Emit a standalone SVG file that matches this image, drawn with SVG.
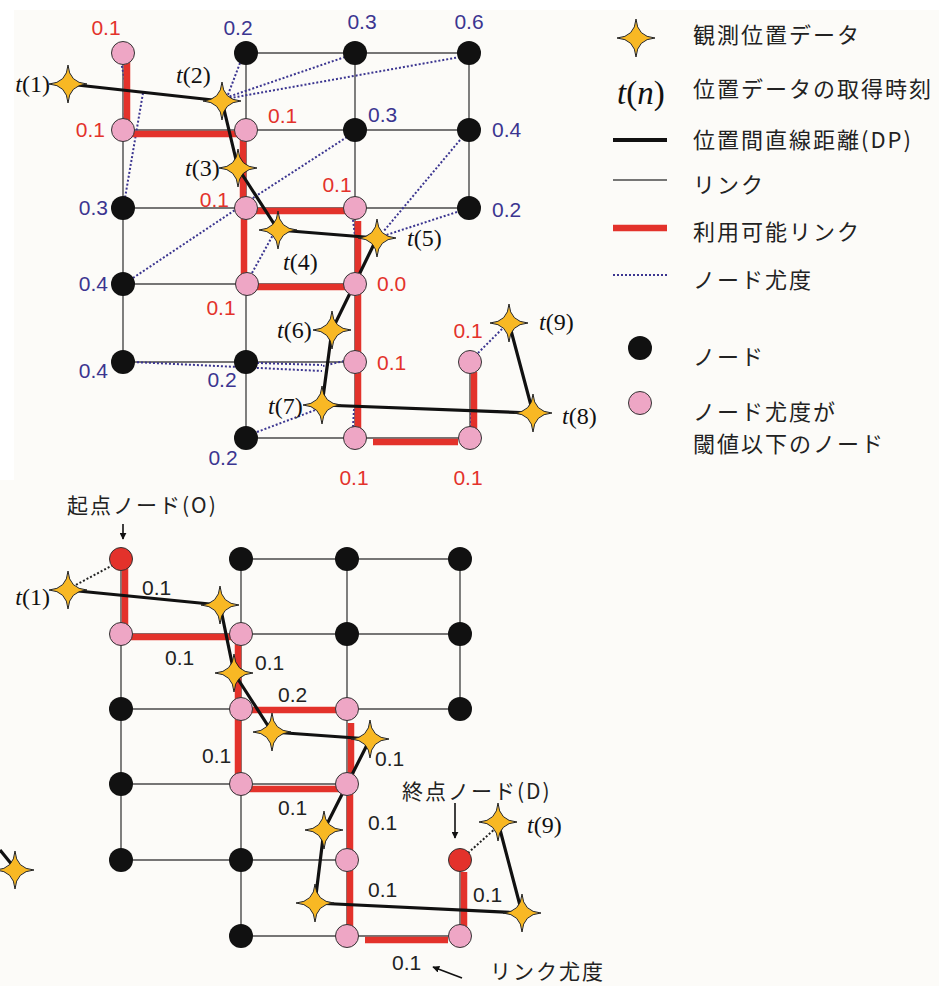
<svg xmlns="http://www.w3.org/2000/svg" width="939" height="986" viewBox="0 0 939 986">
<style>
.bg{fill:#fcfbf8}
.link{stroke:#4a4a4a;stroke-width:1.4;fill:none}
.red{stroke:#e3322b;stroke-width:6.5;fill:none}
.dp{stroke:#111;stroke-width:3.2;fill:none;stroke-linejoin:round}
.dot{stroke:#3b3590;stroke-width:2;stroke-dasharray:2 2;fill:none}
.dotk{stroke:#222;stroke-width:2;stroke-dasharray:2 2;fill:none}
.nb{fill:#111}
.np{fill:#eea6c5;stroke:#333;stroke-width:1}
.nr{fill:#e3322b;stroke:#333;stroke-width:1}
.v{font-family:"Liberation Sans",Arial,sans-serif;font-size:21px}
.vr{fill:#e3322b}
.vb{fill:#3b3590}
.vk{fill:#222}
.tl{font-family:"Liberation Serif","Times New Roman",serif;font-size:24px;fill:#111}
.jp{font-family:"Noto Sans CJK JP","Noto Sans",sans-serif;font-size:22px;letter-spacing:2px;fill:#222}
.jps{font-family:"Noto Sans CJK JP","Noto Sans",sans-serif;font-size:21px;letter-spacing:2px;fill:#222}
.arr{stroke:#111;stroke-width:1.6;fill:none}
</style>
<defs>
<path id="star" d="M0,-19 Q1.2,-1.2 19,0 Q1.2,1.2 0,19 Q-1.2,1.2 -19,0 Q-1.2,-1.2 0,-19 Z" fill="#f8b824" stroke="#222" stroke-width="1"/>
<marker id="ah" viewBox="0 0 10 10" refX="9" refY="5" markerWidth="7" markerHeight="7" orient="auto-start-reverse" markerUnits="userSpaceOnUse">
<path d="M0,0 L10,5 L0,10 Z" fill="#111"/>
</marker>
</defs>
<rect class="bg" x="0" y="0" width="939" height="986"/>
<rect x="0" y="0" width="939" height="10" fill="#ffffff"/>
<rect x="0" y="0" width="14" height="480" fill="#ffffff"/>

<!-- ================= TOP DIAGRAM ================= -->
<g id="top-connectors">
<g id="top-links">
<path class="link" d="M246,53 H469 M123,130 H469 M123,208 H469 M123,284 H355 M123,362 H355 M246,438 H470 M123,53 V362 M246,53 V438 M355,53 V438 M469,53 V208 M470,362 V438"/>
</g>
<g id="top-dotted">
<path class="dot" d="M121,62 L127,91 M127,93 L124,122 M143,93 L125,198 M240,63 L226,100 M345,57 L225,98 M460,57 L225,99 M347,137 L256,196 M133,278 L256,196 M460,140 L383,232 M457,212 L383,236 M353,220 L355,236 M252,273 L274,233 M133,362 L322,371 M257,363 L322,365 M344,361 L323,366 M257,432 L318,409 M353,427 L354,409 M471,427 L471,412 M478,353 L503,328"/>
</g>
<g id="top-red">
<path class="red" d="M127,53 V130 M123,134 H246 M243,130 V208 M246,211 H355 M244,208 V284 M246,287 H355 M358,221 V284 M358,284 V438 M373,442 H458 M474,372 V438"/>
</g>
<g id="top-dp">
<path class="dp" d="M68,84 L222,101 L238,168 L278,230 L377,238 L332,330 L322,405 L533,413 L509,323"/>
</g>
</g>

<g id="top-nodes">
<g id="tn-00"><circle class="np" cx="123" cy="53" r="11.5"/><text class="v vr" x="106" y="35" text-anchor="middle">0.1</text></g>
<g id="tn-01"><circle class="nb" cx="246" cy="53" r="12"/><text class="v vb" x="238" y="35" text-anchor="middle">0.2</text></g>
<g id="tn-02"><circle class="nb" cx="355" cy="53" r="12"/><text class="v vb" x="362" y="29" text-anchor="middle">0.3</text></g>
<g id="tn-03"><circle class="nb" cx="469" cy="53" r="12"/><text class="v vb" x="469" y="29" text-anchor="middle">0.6</text></g>
<g id="tn-10"><circle class="np" cx="123" cy="130" r="11.5"/><text class="v vr" x="105" y="137" text-anchor="end">0.1</text></g>
<g id="tn-11"><circle class="np" cx="246" cy="130" r="11.5"/><text class="v vr" x="268" y="123">0.1</text></g>
<g id="tn-12"><circle class="nb" cx="355" cy="130" r="12"/><text class="v vb" x="368" y="122">0.3</text></g>
<g id="tn-13"><circle class="nb" cx="469" cy="130" r="12"/><text class="v vb" x="492" y="137">0.4</text></g>
<g id="tn-20"><circle class="nb" cx="123" cy="208" r="12"/><text class="v vb" x="108" y="215" text-anchor="end">0.3</text></g>
<g id="tn-21"><circle class="np" cx="246" cy="208" r="11.5"/><text class="v vr" x="229" y="207" text-anchor="end">0.1</text></g>
<g id="tn-22"><circle class="np" cx="355" cy="208" r="11.5"/><text class="v vr" x="337" y="192" text-anchor="middle">0.1</text></g>
<g id="tn-23"><circle class="nb" cx="469" cy="208" r="12"/><text class="v vb" x="492" y="217">0.2</text></g>
<g id="tn-30"><circle class="nb" cx="123" cy="284" r="12"/><text class="v vb" x="108" y="291" text-anchor="end">0.4</text></g>
<g id="tn-31"><circle class="np" cx="247" cy="284" r="11.5"/><text class="v vr" x="221" y="315" text-anchor="middle">0.1</text></g>
<g id="tn-32"><circle class="np" cx="355" cy="284" r="11.5"/><text class="v vr" x="377" y="291">0.0</text></g>
<g id="tn-40"><circle class="nb" cx="123" cy="362" r="12"/><text class="v vb" x="108" y="378" text-anchor="end">0.4</text></g>
<g id="tn-41"><circle class="nb" cx="246" cy="362" r="12"/><text class="v vb" x="222" y="387" text-anchor="middle">0.2</text></g>
<g id="tn-42"><circle class="np" cx="355" cy="362" r="11.5"/><text class="v vr" x="377" y="370">0.1</text></g>
<g id="tn-43"><circle class="np" cx="470" cy="362" r="11.5"/><text class="v vr" x="468" y="338" text-anchor="middle">0.1</text></g>
<g id="tn-51"><circle class="nb" cx="246" cy="438" r="12"/><text class="v vb" x="223" y="465" text-anchor="middle">0.2</text></g>
<g id="tn-52"><circle class="np" cx="355" cy="438" r="11.5"/><text class="v vr" x="354" y="485" text-anchor="middle">0.1</text></g>
<g id="tn-53"><circle class="np" cx="470" cy="438" r="11.5"/><text class="v vr" x="468" y="485" text-anchor="middle">0.1</text></g>
</g>

<g id="top-obs">
<g id="tt1"><use href="#star" x="68" y="84"/><text class="tl" x="50" y="92" text-anchor="end"><tspan font-style="italic">t</tspan>(1)</text></g>
<g id="tt2"><use href="#star" x="222" y="101"/><text class="tl" x="176" y="83"><tspan font-style="italic">t</tspan>(2)</text></g>
<g id="tt3"><use href="#star" x="238" y="168"/><text class="tl" x="185" y="176"><tspan font-style="italic">t</tspan>(3)</text></g>
<g id="tt4"><use href="#star" x="278" y="230"/><text class="tl" x="283" y="270"><tspan font-style="italic">t</tspan>(4)</text></g>
<g id="tt5"><use href="#star" x="377" y="238"/><text class="tl" x="407" y="246"><tspan font-style="italic">t</tspan>(5)</text></g>
<g id="tt6"><use href="#star" x="332" y="330"/><text class="tl" x="277" y="338"><tspan font-style="italic">t</tspan>(6)</text></g>
<g id="tt7"><use href="#star" x="322" y="405"/><text class="tl" x="268" y="414"><tspan font-style="italic">t</tspan>(7)</text></g>
<g id="tt8"><use href="#star" x="533" y="413"/><text class="tl" x="562" y="424"><tspan font-style="italic">t</tspan>(8)</text></g>
<g id="tt9"><use href="#star" x="509" y="323"/><text class="tl" x="539" y="330"><tspan font-style="italic">t</tspan>(9)</text></g>
</g>

<!-- ================= LEGEND ================= -->
<g id="legend">
<g id="lg-star"><use href="#star" x="636" y="38"/><text class="jp" x="693" y="43">観測位置データ</text></g>
<g id="lg-time"><text class="tl" x="617" y="104" style="font-size:33px"><tspan font-style="italic">t</tspan>(<tspan font-style="italic">n</tspan>)</text><text class="jp" x="693" y="97">位置データの取得時刻</text></g>
<g id="lg-dp"><line x1="613" y1="140" x2="667" y2="140" stroke="#111" stroke-width="4"/><text class="jp" x="693" y="148">位置間直線距離(DP)</text></g>
<g id="lg-link"><line x1="613" y1="180" x2="667" y2="180" stroke="#4a4a4a" stroke-width="1.4"/><text class="jp" x="693" y="193">リンク</text></g>
<g id="lg-red"><line x1="613" y1="228" x2="667" y2="228" stroke="#e3322b" stroke-width="6.5"/><text class="jp" x="693" y="240">利用可能リンク</text></g>
<g id="lg-dot"><line x1="613" y1="275" x2="667" y2="275" class="dot"/><text class="jp" x="693" y="288">ノード尤度</text></g>
<g id="lg-node"><circle class="nb" cx="640" cy="348" r="12"/><text class="jp" x="693" y="365">ノード</text></g>
<g id="lg-pink"><circle class="np" cx="640" cy="403" r="11.5"/><text class="jp" x="693" y="420">ノード尤度が</text><text class="jp" x="693" y="452">閾値以下のノード</text></g>
</g>

<!-- ================= BOTTOM DIAGRAM ================= -->
<g id="bottom-connectors">
<g id="bottom-links">
<path class="link" d="M241,559 H460 M121,634 H460 M121,709 H460 M121,784 H347 M121,860 H347 M241,936 H460 M121,559 V860 M241,559 V936 M347,559 V936 M460,559 V709 M460,860 V936"/>
</g>
<g id="bottom-dotted">
<path class="dotk" d="M113,565 L72,587 M468,853 L497,827"/>
</g>
<g id="bottom-red">
<path class="red" d="M125,559 V634 M121,637 H241 M238,634 V709 M241,710 H347 M238,709 V784 M241,789 H347 M351,723 V784 M350,784 V936 M365,940 H448 M464,872 V936"/>
</g>
<g id="bottom-dp">
<path class="dp" d="M68,590 L220,605 L234,673 L272,732 L370,739 L324,830 L315,903 L522,913 L498,822"/>
<path class="dp" d="M0,850 L13,866"/>
</g>
<g id="bottom-arrows">
<line class="arr" x1="123" y1="524" x2="123" y2="539" marker-end="url(#ah)"/>
<line class="arr" x1="455" y1="803" x2="455" y2="838" marker-end="url(#ah)"/>
<line class="arr" x1="462" y1="978" x2="433" y2="967" marker-end="url(#ah)"/>
</g>
</g>

<g id="bottom-nodes">
<g id="bn-00"><circle class="nr" cx="121" cy="559" r="11.5"/></g>
<g id="bn-01"><circle class="nb" cx="241" cy="559" r="12"/></g>
<g id="bn-02"><circle class="nb" cx="347" cy="559" r="12"/></g>
<g id="bn-03"><circle class="nb" cx="460" cy="559" r="12"/></g>
<g id="bn-10"><circle class="np" cx="121" cy="634" r="11.5"/></g>
<g id="bn-11"><circle class="np" cx="241" cy="634" r="11.5"/></g>
<g id="bn-12"><circle class="nb" cx="347" cy="634" r="12"/></g>
<g id="bn-13"><circle class="nb" cx="460" cy="634" r="12"/></g>
<g id="bn-20"><circle class="nb" cx="121" cy="709" r="12"/></g>
<g id="bn-21"><circle class="np" cx="241" cy="709" r="11.5"/></g>
<g id="bn-22"><circle class="np" cx="347" cy="709" r="11.5"/></g>
<g id="bn-23"><circle class="nb" cx="460" cy="709" r="12"/></g>
<g id="bn-30"><circle class="nb" cx="121" cy="784" r="12"/></g>
<g id="bn-31"><circle class="np" cx="241" cy="784" r="11.5"/></g>
<g id="bn-32"><circle class="np" cx="347" cy="784" r="11.5"/></g>
<g id="bn-40"><circle class="nb" cx="121" cy="860" r="12"/></g>
<g id="bn-41"><circle class="nb" cx="241" cy="860" r="12"/></g>
<g id="bn-42"><circle class="np" cx="347" cy="860" r="11.5"/></g>
<g id="bn-43"><circle class="nr" cx="460" cy="860" r="11.5"/></g>
<g id="bn-51"><circle class="nb" cx="241" cy="936" r="12"/></g>
<g id="bn-52"><circle class="np" cx="347" cy="936" r="11.5"/></g>
<g id="bn-53"><circle class="np" cx="460" cy="936" r="11.5"/></g>
</g>

<g id="bottom-obs">
<g id="bt1"><use href="#star" x="68" y="590"/><text class="tl" x="50" y="605" text-anchor="end"><tspan font-style="italic">t</tspan>(1)</text></g>
<use href="#star" x="220" y="605"/>
<use href="#star" x="234" y="673"/>
<use href="#star" x="272" y="732"/>
<use href="#star" x="370" y="739"/>
<use href="#star" x="324" y="830"/>
<use href="#star" x="315" y="903"/>
<use href="#star" x="522" y="913"/>
<g id="bt9"><use href="#star" x="498" y="822"/><text class="tl" x="527" y="833"><tspan font-style="italic">t</tspan>(9)</text></g>
<use href="#star" x="15" y="870"/>
</g>

<g id="bottom-labels">
<text class="jps" x="67" y="513">起点ノード(O)</text>
<text class="jps" x="402" y="799">終点ノード(D)</text>
<text class="jps" x="490" y="979">リンク尤度</text>
<text class="v vk" x="142" y="595">0.1</text>
<text class="v vk" x="165" y="665">0.1</text>
<text class="v vk" x="255" y="670">0.1</text>
<text class="v vk" x="278" y="702">0.2</text>
<text class="v vk" x="375" y="766">0.1</text>
<text class="v vk" x="202" y="763">0.1</text>
<text class="v vk" x="278" y="815">0.1</text>
<text class="v vk" x="368" y="830">0.1</text>
<text class="v vk" x="368" y="897">0.1</text>
<text class="v vk" x="473" y="902">0.1</text>
<text class="v vk" x="392" y="970">0.1</text>
</g>
</svg>
